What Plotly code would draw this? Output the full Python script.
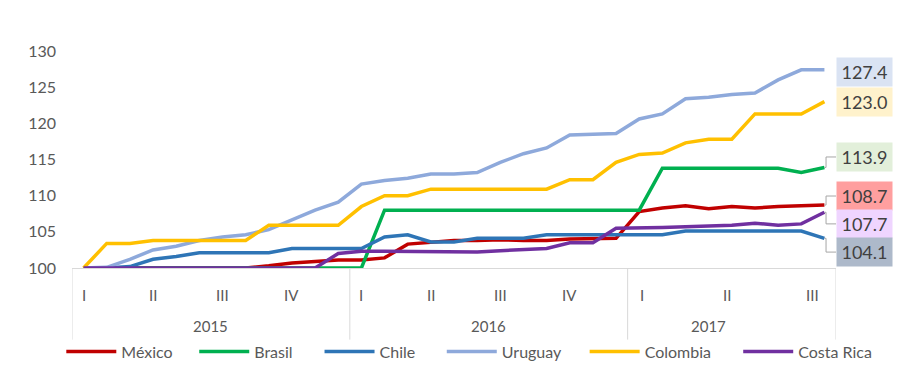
import plotly.graph_objects as go

# ---------------- data ----------------
months = list(range(33))  # Jan 2015 .. Sep 2017

mexico = [100, 100, 100, 100, 100, 100, 100, 100, 100.3, 100.7, 100.9, 101.1,
          101.1, 101.4, 103.3, 103.6, 103.8, 103.8, 103.9, 103.8, 103.8, 104.0, 104.0, 104.1,
          107.8, 108.3, 108.6, 108.2, 108.5, 108.3, 108.5, 108.6, 108.7]
brasil = [100, 100, 100, 100, 100, 100, 100, 100, 100, 100, 100, 100,
          100, 108.0, 108.0, 108.0, 108.0, 108.0, 108.0, 108.0, 108.0, 108.0, 108.0, 108.0,
          108.0, 113.8, 113.8, 113.8, 113.8, 113.8, 113.8, 113.2, 113.9]
chile = [100, 100, 100.2, 101.2, 101.6, 102.1, 102.1, 102.1, 102.1, 102.7, 102.7, 102.7,
         102.7, 104.3, 104.6, 103.6, 103.6, 104.1, 104.1, 104.1, 104.6, 104.6, 104.6, 104.6,
         104.6, 104.6, 105.1, 105.1, 105.1, 105.1, 105.1, 105.1, 104.1]
uruguay = [100, 100.1, 101.2, 102.5, 103.0, 103.8, 104.3, 104.6, 105.3, 106.6, 108.0, 109.1,
           111.6, 112.1, 112.4, 113.0, 113.0, 113.2, 114.6, 115.8, 116.6, 118.4, 118.5, 118.6,
           120.6, 121.3, 123.4, 123.6, 124.0, 124.2, 126.0, 127.4, 127.4]
colombia = [100, 103.4, 103.4, 103.8, 103.8, 103.8, 103.8, 103.8, 105.9, 105.9, 105.9, 105.9,
            108.5, 110.0, 110.0, 110.9, 110.9, 110.9, 110.9, 110.9, 110.9, 112.2, 112.2, 114.6,
            115.7, 115.9, 117.3, 117.8, 117.8, 121.3, 121.3, 121.3, 123.0]
costa_rica = [100, 100, 100, 100, 100, 100, 100, 100, 100, 100, 100, 102.0,
              102.3, 102.3, 102.3, 102.3, 102.3, 102.2, 102.4, 102.6, 102.7, 103.5, 103.5, 105.5,
              105.5, 105.6, 105.7, 105.8, 105.9, 106.2, 105.9, 106.1, 107.7]

series_names = ["México", "Brasil", "Chile", "Uruguay", "Colombia", "Costa Rica"]
series_values = [mexico, brasil, chile, uruguay, colombia, costa_rica]
series_colors = ["#C00000", "#00B050", "#2E75B6", "#8EA9DB", "#FFC000", "#7030A0"]

quarter_labels = ["I", "II", "III", "IV", "I", "II", "III", "IV", "I", "II", "III"]
quarter_pos = [0, 3, 6, 9, 12, 15, 18, 21, 24.1, 27.8, 31.5]
year_labels = ["2015", "2016", "2017"]
year_pos = [5.5, 17.5, 27.0]
year_bounds = [-0.5, 11.5, 23.5, 32.5]

# end-value label boxes
end_labels = ["127.4", "123.0", "113.9", "108.7", "107.7", "104.1"]
end_label_series = [3, 4, 1, 0, 5, 2]
end_label_bg = ["#DAE3F3", "#FFF2CC", "#E2EFDA", "#FF9F9F", "#EFD5FF", "#ADB9CA"]
end_label_y = [127.1, 122.95, 115.35, 109.95, 106.1, 102.2]
end_label_connector = [False, False, True, True, True, True]

# legend entry positions (paper fraction of plot width)
legend_x = [-0.014, 0.160, 0.324, 0.484, 0.671, 0.872]

FONT = "Lato, Carlito, Calibri, sans-serif"
GRAY = "#595959"

fig = go.Figure()
legend_layout = {}
for i, (name, vals, col) in enumerate(zip(series_names, series_values, series_colors)):
    lname = "legend" if i == 0 else f"legend{i + 1}"
    fig.add_trace(go.Scatter(x=months, y=vals, mode="lines", name=name, legend=lname,
                             line=dict(color=col, width=3.5)))
    legend_layout[lname] = dict(orientation="h", x=legend_x[i], xanchor="left",
                                y=-0.385, yanchor="middle", itemwidth=50,
                                font=dict(family=FONT, size=16, color=GRAY),
                                bgcolor="rgba(0,0,0,0)")

for txt, si, bg, ly, conn in zip(end_labels, end_label_series, end_label_bg,
                                 end_label_y, end_label_connector):
    fig.add_annotation(x=32.5, y=ly, xref="x", yref="y", text=txt, showarrow=False,
                       xanchor="left", yanchor="middle", bgcolor=bg, width=55, height=28,
                       borderpad=0, font=dict(family=FONT, size=18, color="#404040"))
    if conn:
        ev = series_values[si][-1]
        fig.add_shape(type="path", xref="x", yref="y",
                      path=f"M 32,{ev} L 32.07,{ev} L 32.07,{ly} L 32.5,{ly}",
                      line=dict(color="#A6A6A6", width=1))

for lab, pos in zip(quarter_labels, quarter_pos):
    fig.add_annotation(x=pos, y=-0.125, xref="x", yref="paper", text=lab, showarrow=False,
                       xanchor="center", yanchor="middle",
                       font=dict(family=FONT, size=15, color=GRAY))
for lab, pos in zip(year_labels, year_pos):
    fig.add_annotation(x=pos, y=-0.268, xref="x", yref="paper", text=lab, showarrow=False,
                       xanchor="center", yanchor="middle",
                       font=dict(family=FONT, size=15, color=GRAY))
for b in year_bounds:
    fig.add_shape(type="line", xref="x", yref="paper", x0=b, x1=b, y0=0, y1=-0.33,
                  line=dict(color="#D9D9D9", width=1))

fig.update_layout(
    width=919, height=380,
    margin=dict(l=72, r=83, t=51, b=112),
    paper_bgcolor="white", plot_bgcolor="white",
    font=dict(family=FONT, size=14, color=GRAY),
    showlegend=True,
    xaxis=dict(range=[-0.5, 32.5], showgrid=False, zeroline=False, showticklabels=False,
               showline=True, linecolor="#D9D9D9", linewidth=1, ticks=""),
    yaxis=dict(range=[100, 130], dtick=5, showgrid=False, zeroline=False, showline=False,
               tickfont=dict(family=FONT, size=16, color=GRAY), ticks="",
               ticklabelstandoff=15),
    **legend_layout,
)

fig.write_html("out.html", config={"displayModeBar": False},
               post_script="document.body.style.margin='0px';")
